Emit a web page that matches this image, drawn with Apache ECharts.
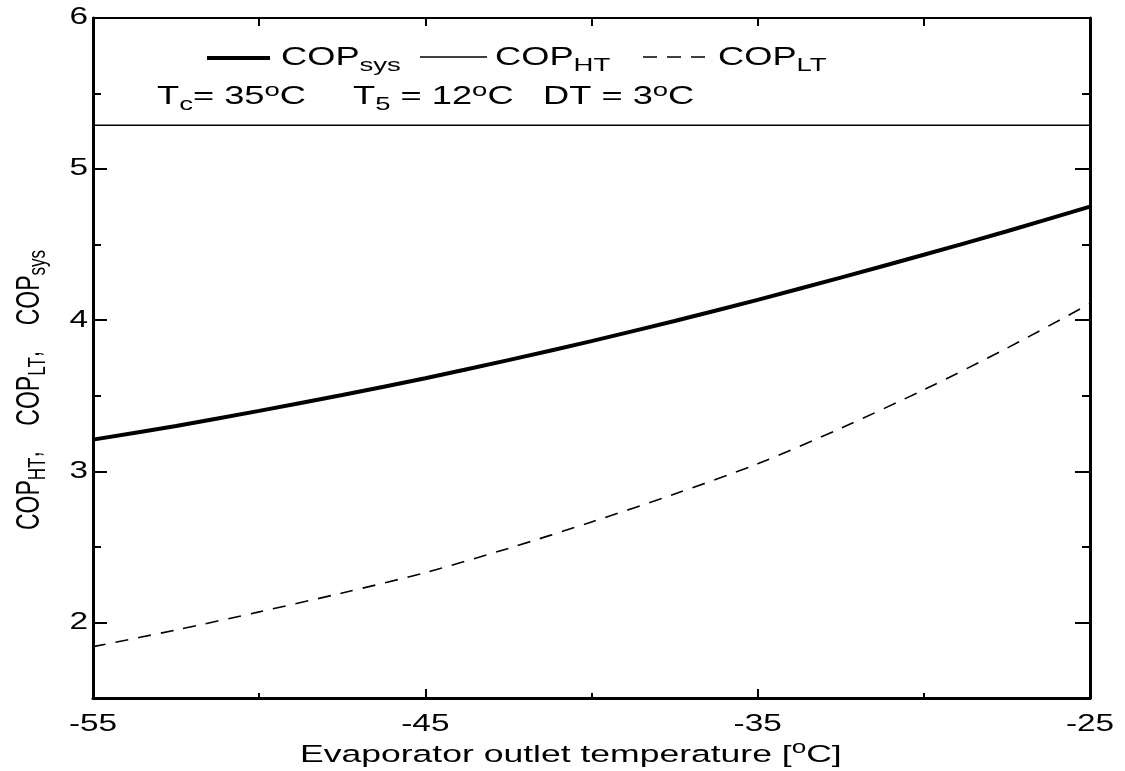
<!DOCTYPE html>
<html>
<head>
<meta charset="utf-8">
<script src="https://cdn.jsdelivr.net/npm/echarts@6/dist/echarts.min.js"></script>
<style>
  html, body { margin: 0; padding: 0; background: #fff; }
  #chart { width: 1125px; height: 771px; }
</style>
</head>
<body>
<div id="chart"></div>
<script>
// Evaporator outlet temperature [°C]
const temps  = [-55, -52.5, -50, -47.5, -45, -42.5, -40, -37.5, -35, -32.5, -30, -27.5, -25];
// System COP (cascade)
const copSys = [3.21, 3.30, 3.40, 3.505, 3.616, 3.736, 3.862, 3.995, 4.135, 4.282, 4.433, 4.589, 4.752];
// High-temperature stage COP (independent of evaporator temperature)
const copHT  = [5.29, 5.29, 5.29, 5.29, 5.29, 5.29, 5.29, 5.29, 5.29, 5.29, 5.29, 5.29, 5.29];
// Low-temperature stage COP
const copLT  = [1.84, 1.95, 2.07, 2.195, 2.33, 2.49, 2.665, 2.85, 3.05, 3.285, 3.54, 3.815, 4.11];

const xTickLabels = [-55, -45, -35, -25];
const yTickLabels = [2, 3, 4, 5, 6];
const yMinorTicks = [2.5, 3.5, 4.5, 5.5];

const FONT = '"Liberation Sans", Arial, Helvetica, sans-serif';
const INK = '#000';
const STRETCH = 1.45;   // horizontal text stretch

const pairs = (ys) => temps.map((t, i) => [t, ys[i]]);

const baseX = {
  type: 'value', min: -55, max: -25,
  splitLine: { show: false }, axisLabel: { show: false },
  axisLine: { onZero: false, lineStyle: { color: INK, width: 3 } }
};
const baseY = {
  type: 'value', min: 1.5, max: 6, interval: 0.5,
  splitLine: { show: false }, axisLabel: { show: false },
  axisLine: { onZero: false, lineStyle: { color: INK, width: 3 } }
};
const tickLine = { color: INK, width: 2 };

const chart = echarts.init(document.getElementById('chart'), null, { renderer: 'canvas' });

chart.setOption({
  animation: false,
  backgroundColor: '#fff',
  grid: { left: 93, right: 35, top: 18, bottom: 73, containLabel: false },
  xAxis: [
    Object.assign({}, baseX, {
      position: 'bottom', interval: 10,
      axisTick: { inside: true, length: 9, lineStyle: tickLine },
      minorTick: { show: true, splitNumber: 2, length: 5, lineStyle: tickLine }
    }),
    Object.assign({}, baseX, {
      position: 'top', interval: 5,
      axisLine: { onZero: false, lineStyle: { color: INK, width: 2 } },
      axisTick: { inside: true, length: 8, lineStyle: tickLine }
    })
  ],
  yAxis: [
    Object.assign({}, baseY, {
      position: 'left',
      axisTick: { inside: true, length: 8, customValues: yMinorTicks, lineStyle: tickLine }
    }),
    Object.assign({}, baseY, {
      position: 'left', axisLine: { show: false },
      axisTick: { inside: true, length: 14, customValues: yTickLabels, lineStyle: tickLine }
    }),
    Object.assign({}, baseY, {
      position: 'right',
      axisTick: { inside: true, length: 8, customValues: yMinorTicks, lineStyle: tickLine }
    }),
    Object.assign({}, baseY, {
      position: 'right', axisLine: { show: false },
      axisTick: { inside: true, length: 15, customValues: yTickLabels, lineStyle: tickLine }
    })
  ],
  series: [
    {
      name: 'COP_sys', type: 'line', data: pairs(copSys), showSymbol: false, smooth: 0.3,
      silent: true, lineStyle: { color: INK, width: 4 }
    },
    {
      name: 'COP_HT', type: 'line', data: pairs(copHT), showSymbol: false,
      silent: true, lineStyle: { color: INK, width: 1.5 }
    },
    {
      name: 'COP_LT', type: 'line', data: pairs(copLT), showSymbol: false, smooth: 0.3,
      silent: true, lineStyle: { color: INK, width: 1.6, type: [13, 10] }
    }
  ]
});

// ---- text and legend, placed with the axes' own coordinate conversion ----
const toPx = (x, y) => chart.convertToPixel({ xAxisIndex: 0, yAxisIndex: 0 }, [x, y]);

function tok(size, padTop) {
  return { fontSize: size, fontFamily: FONT, fill: INK, verticalAlign: 'top', padding: [padTop, 0, 0, 0] };
}
const richLegend = { m: tok(25, 3), s: tok(19, 14), o: tok(19, 0) };
const richXName = { m: tok(24.5, 3), o: tok(18, 0) };
const richYName = { m: tok(23, 3), s: tok(17, 12) };

function richText(x, y, text, rich, extra) {
  return Object.assign({
    type: 'text', x: x, y: y, scaleX: STRETCH, silent: true,
    style: { text: text, rich: rich, fill: INK, fontFamily: FONT, align: 'left', verticalAlign: 'top' }
  }, extra || {});
}

const graphics = [];

// tick labels
xTickLabels.forEach(v => {
  const p = toPx(v, 1.5);
  graphics.push({
    type: 'text', x: p[0], y: p[1] + 27, scaleX: STRETCH, silent: true,
    style: { text: String(v), fontSize: 23, fontFamily: FONT, fill: INK, align: 'center', verticalAlign: 'middle' }
  });
});
yTickLabels.forEach(v => {
  const p = toPx(-55, v);
  graphics.push({
    type: 'text', x: p[0] - 5, y: p[1], scaleX: STRETCH, silent: true,
    style: { text: String(v), fontSize: 23, fontFamily: FONT, fill: INK, align: 'right', verticalAlign: 'middle' }
  });
});

// axis names
graphics.push(richText(300, 739.5, '{m|Evaporator outlet temperature [}{o|o}{m|C]}', richXName));
graphics.push({
  type: 'text', x: 9.5, y: 390, rotation: Math.PI / 2, scaleY: 1.42, silent: true,
  style: {
    text: '{m|COP}{s|HT}{m|,    COP}{s|LT}{m|,    COP}{s|sys}', rich: richYName,
    fill: INK, fontFamily: FONT, align: 'center', verticalAlign: 'top'
  }
});

// legend keys
graphics.push({ type: 'line', silent: true, shape: { x1: 207, y1: 58, x2: 270, y2: 58 }, style: { stroke: INK, lineWidth: 4 } });
graphics.push({ type: 'line', silent: true, shape: { x1: 420, y1: 57, x2: 487, y2: 57 }, style: { stroke: INK, lineWidth: 1.5 } });
graphics.push({ type: 'line', silent: true, shape: { x1: 643, y1: 57, x2: 705, y2: 57 }, style: { stroke: INK, lineWidth: 1.5, lineDash: [14, 10] } });

// legend labels
graphics.push(richText(281, 42.5, '{m|COP}{s|sys}', richLegend));
graphics.push(richText(495, 42.5, '{m|COP}{s|HT}', richLegend));
graphics.push(richText(718, 42.5, '{m|COP}{s|LT}', richLegend));

// operating conditions
graphics.push(richText(157, 81.5, '{m|T}{s|c}{m|= 35}{o|o}{m|C}', richLegend));
graphics.push(richText(353, 81.5, '{m|T}{s|5}{m| = 12}{o|o}{m|C}', richLegend));
graphics.push(richText(543, 81.5, '{m|DT = 3}{o|o}{m|C}', richLegend));

chart.setOption({ graphic: { elements: graphics } });
</script>
</body>
</html>
